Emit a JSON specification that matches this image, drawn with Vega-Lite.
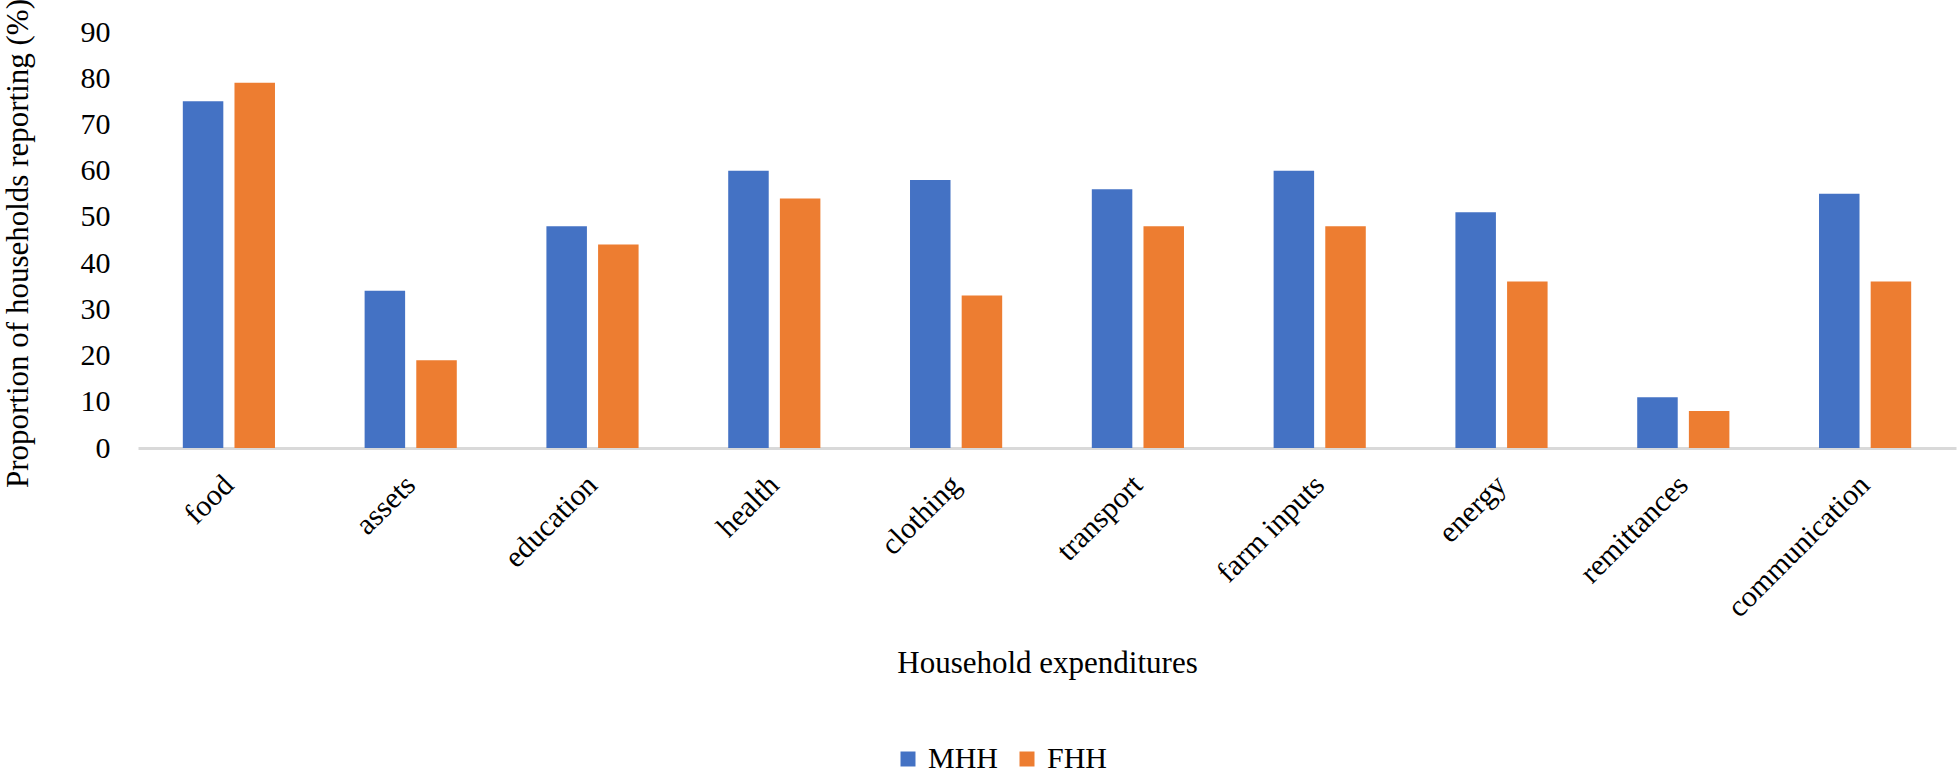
{
  "$schema": "https://vega.github.io/schema/vega-lite/v6.json",
  "width": 1818,
  "height": 416,
  "autosize": {"type": "none"},
  "padding": {"left": 138, "top": 32, "right": 1, "bottom": 327},
  "background": "white",
  "config": {
    "view": {"stroke": null},
    "font": "Liberation Serif"
  },
  "data": {
    "values": [
      {"expenditure": "food", "group": "MHH", "percent": 75},
      {"expenditure": "food", "group": "FHH", "percent": 79},
      {"expenditure": "assets", "group": "MHH", "percent": 34},
      {"expenditure": "assets", "group": "FHH", "percent": 19},
      {"expenditure": "education", "group": "MHH", "percent": 48},
      {"expenditure": "education", "group": "FHH", "percent": 44},
      {"expenditure": "health", "group": "MHH", "percent": 60},
      {"expenditure": "health", "group": "FHH", "percent": 54},
      {"expenditure": "clothing", "group": "MHH", "percent": 58},
      {"expenditure": "clothing", "group": "FHH", "percent": 33},
      {"expenditure": "transport", "group": "MHH", "percent": 56},
      {"expenditure": "transport", "group": "FHH", "percent": 48},
      {"expenditure": "farm inputs", "group": "MHH", "percent": 60},
      {"expenditure": "farm inputs", "group": "FHH", "percent": 48},
      {"expenditure": "energy", "group": "MHH", "percent": 51},
      {"expenditure": "energy", "group": "FHH", "percent": 36},
      {"expenditure": "remittances", "group": "MHH", "percent": 11},
      {"expenditure": "remittances", "group": "FHH", "percent": 8},
      {"expenditure": "communication", "group": "MHH", "percent": 55},
      {"expenditure": "communication", "group": "FHH", "percent": 36}
    ]
  },
  "mark": {"type": "bar"},
  "encoding": {
    "x": {
      "field": "expenditure",
      "type": "nominal",
      "sort": null,
      "scale": {"paddingInner": 0.493, "paddingOuter": 0.2465},
      "axis": {
        "title": "Household expenditures",
        "titleFont": "Liberation Serif",
        "titleFontSize": 31,
        "titleFontWeight": "normal",
        "titleColor": "black",
        "titleY": 224,
        "titleBaseline": "alphabetic",
        "labelAngle": -45,
        "labelAlign": "right",
        "labelBaseline": "middle",
        "labelFont": "Liberation Serif",
        "labelFontSize": 30,
        "labelColor": "black",
        "labelPadding": 32,
        "labelLimit": 0,
        "labelOverlap": false,
        "ticks": false,
        "domainColor": "#d9d9d9",
        "domainWidth": 3
      }
    },
    "xOffset": {
      "field": "group",
      "type": "nominal",
      "sort": ["MHH", "FHH"],
      "scale": {"paddingInner": 0.216, "paddingOuter": 0}
    },
    "y": {
      "field": "percent",
      "type": "quantitative",
      "scale": {"domain": [0, 90], "nice": false},
      "axis": {
        "title": "Proportion of households reporting (%)",
        "titleFont": "Liberation Serif",
        "titleFontSize": 31,
        "titleFontWeight": "normal",
        "titleColor": "black",
        "titleAngle": -90,
        "titleAlign": "center",
        "titleBaseline": "alphabetic",
        "titleX": -111,
        "titleY": 211,
        "values": [0, 10, 20, 30, 40, 50, 60, 70, 80, 90],
        "labelFont": "Liberation Serif",
        "labelFontSize": 30,
        "labelColor": "black",
        "labelPadding": 28,
        "ticks": false,
        "domain": false,
        "grid": false
      }
    },
    "color": {
      "field": "group",
      "type": "nominal",
      "scale": {"domain": ["MHH", "FHH"], "range": ["#4472C4", "#ED7D31"]},
      "legend": {
        "title": null,
        "orient": "none",
        "direction": "horizontal",
        "legendX": 755,
        "legendY": 712,
        "symbolType": "square",
        "symbolSize": 225,
        "symbolStrokeWidth": 0,
        "labelFont": "Liberation Serif",
        "labelFontSize": 30,
        "labelColor": "black",
        "labelOffset": 5,
        "columnPadding": 13,
        "padding": 0
      }
    }
  }
}
